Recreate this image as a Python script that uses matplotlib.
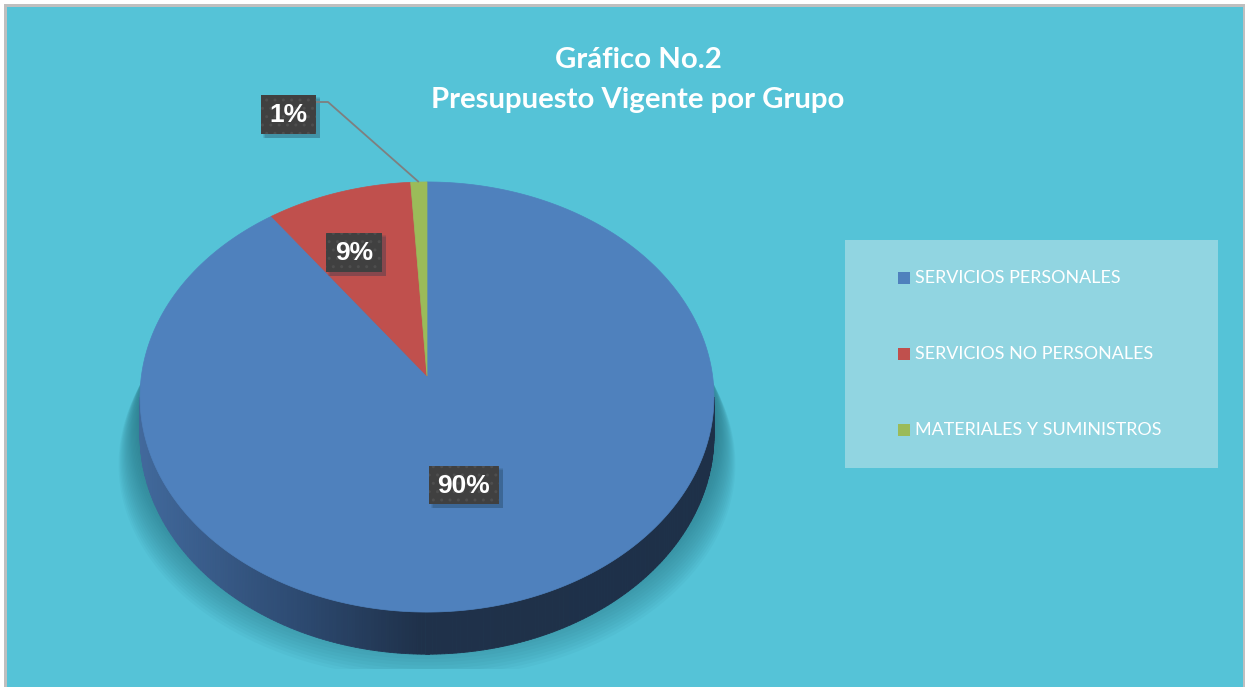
import numpy as np
import matplotlib
matplotlib.use("Agg")
import matplotlib.pyplot as plt
from matplotlib.patches import Polygon, Rectangle

# ---------------- data ----------------
categories = ["SERVICIOS PERSONALES", "SERVICIOS NO PERSONALES", "MATERIALES Y SUMINISTROS"]
values = [90, 9, 1]
colors = ["#4F81BD", "#C0504D", "#9BBB59"]
title_lines = ["Gráfico No.2", "Presupuesto Vigente por Grupo"]

# ---------------- geometry (pixels) ----------------
W, H = 1245, 687
CX, CY = 427.0, 376.0
A, B, K = 285.6, 213.0, 0.0977
DEPTH = 38.0

def proj(u, v, dz=0.0):
    w = 1.0 + K * v
    return CX + A * u / w, CY - B * v / w + dz / w

fig = plt.figure(figsize=(W / 100, H / 100), dpi=100)
fig.patch.set_facecolor("white")
ax = fig.add_axes([0, 0, 1, 1])
ax.set_xlim(0, W)
ax.set_ylim(H, 0)
ax.axis("off")

# background frame
ax.add_patch(Rectangle((4, 4), W - 4, H - 4, facecolor="#BFBFBF", edgecolor="none", zorder=0))
ax.add_patch(Rectangle((7, 7), W - 9, H - 7, facecolor="#55C3D7", edgecolor="none", zorder=0.1))

# ---------------- shadow ----------------
clip_rect = Rectangle((7, 7), W - 9, 669 - 7, transform=ax.transData, facecolor="none", edgecolor="none")
ax.add_patch(clip_rect)
tt = np.linspace(0, 2 * np.pi, 400)
nlay = 22
for i in range(nlay):
    f = i / (nlay - 1)
    s = 1.0 + 0.075 * f
    dz = 22 + 46 * f
    xs, ys = proj(s * np.cos(tt), s * np.sin(tt) * 0.9, dz)
    p = Polygon(np.column_stack([xs, ys]), closed=True, facecolor="#26707F",
                edgecolor="none", alpha=0.055, zorder=1)
    ax.add_patch(p)
    p.set_clip_path(clip_rect)

# ---------------- side (depth) ----------------
t0 = np.pi + np.arcsin(K)
t1 = 2 * np.pi - np.arcsin(K)
ts = np.linspace(t0, t1, 240)
xg = [140, 300, 420, 720]
cg = np.array([[0x42, 0x69, 0x9C], [0x2D, 0x4A, 0x71], [0x1F, 0x31, 0x4A], [0x1E, 0x30, 0x48]]) / 255.0
for a, b in zip(ts[:-1], ts[1:]):
    xa, ya = proj(np.cos(a), np.sin(a))
    xb, yb = proj(np.cos(b), np.sin(b))
    xa2, ya2 = proj(np.cos(a), np.sin(a), DEPTH)
    xb2, yb2 = proj(np.cos(b), np.sin(b), DEPTH)
    xm = 0.5 * (xa + xb)
    col = [np.interp(xm, xg, cg[:, k]) for k in range(3)]
    ax.add_patch(Polygon([[xa, ya], [xb, yb], [xb2, yb2], [xa2, ya2]], closed=True,
                         facecolor=col, edgecolor=col, linewidth=0.6, zorder=2))

# ---------------- top face wedges ----------------
total = float(sum(values))
start = 90.0
wedge_mid = []
for val, col in zip(values, colors):
    span = 360.0 * val / total
    a1, a2 = start - span, start
    ang = np.radians(np.linspace(a1, a2, max(4, int(span * 2))))
    xs, ys = proj(np.cos(ang), np.sin(ang))
    pts = np.column_stack([np.r_[CX, xs], np.r_[CY, ys]])
    ax.add_patch(Polygon(pts, closed=True, facecolor=col, edgecolor=col, linewidth=0.5, zorder=3))
    wedge_mid.append(np.radians(0.5 * (a1 + a2)))
    start = a1

# ---------------- data labels ----------------
label_boxes = [(429, 466, 70, 38), (326, 233, 56, 39), (261, 95, 55, 39)]
for val, (bx, by, bw, bh) in zip(values, label_boxes):
    txt = f"{100 * val / total:.0f}%"
    for j, al in enumerate([0.12, 0.12, 0.15]):
        ax.add_patch(Rectangle((bx + 2 + j, by + 2 + j), bw + 2 - j, bh + 2 - j,
                               facecolor="#1d3a50", edgecolor="none", alpha=al, zorder=4))
    ax.add_patch(Rectangle((bx, by), bw, bh, facecolor="#404040", edgecolor="#4E4E4E",
                           linewidth=0, hatch="..", zorder=5))
    ax.text(bx + bw / 2, by + bh / 2 + 1, txt, ha="center", va="center", fontsize=19,
            fontweight="bold", family="Liberation Sans", color="white", zorder=6)

# leader line for the smallest slice
gx, gy = proj(np.cos(wedge_mid[2]), np.sin(wedge_mid[2]))
ax.plot([316, 328, gx], [102, 102, gy], color="#7F7F7F", linewidth=1.3, zorder=4,
        solid_capstyle="butt")

# ---------------- title ----------------
ax.text(638, 60, title_lines[0], ha="center", va="center", fontsize=21.2, fontweight="bold",
        family="Lato", color="white", zorder=6)
ax.text(638, 100, title_lines[1], ha="center", va="center", fontsize=21.2, fontweight="bold",
        family="Lato", color="white", zorder=6)

# ---------------- legend ----------------
ax.add_patch(Rectangle((845, 240), 373, 228, facecolor="#91D5E1", edgecolor="none", zorder=3))
row_y = [278, 354, 430]
for cat, col, ry in zip(categories, colors, row_y):
    ax.add_patch(Rectangle((898, ry - 6), 12, 12, facecolor=col, edgecolor="none", zorder=4))
    ax.text(915, ry, cat, ha="left", va="center", fontsize=12.9, family="Lato",
            color="white", zorder=4)

fig.savefig("out.png", dpi=100, facecolor=fig.get_facecolor())
